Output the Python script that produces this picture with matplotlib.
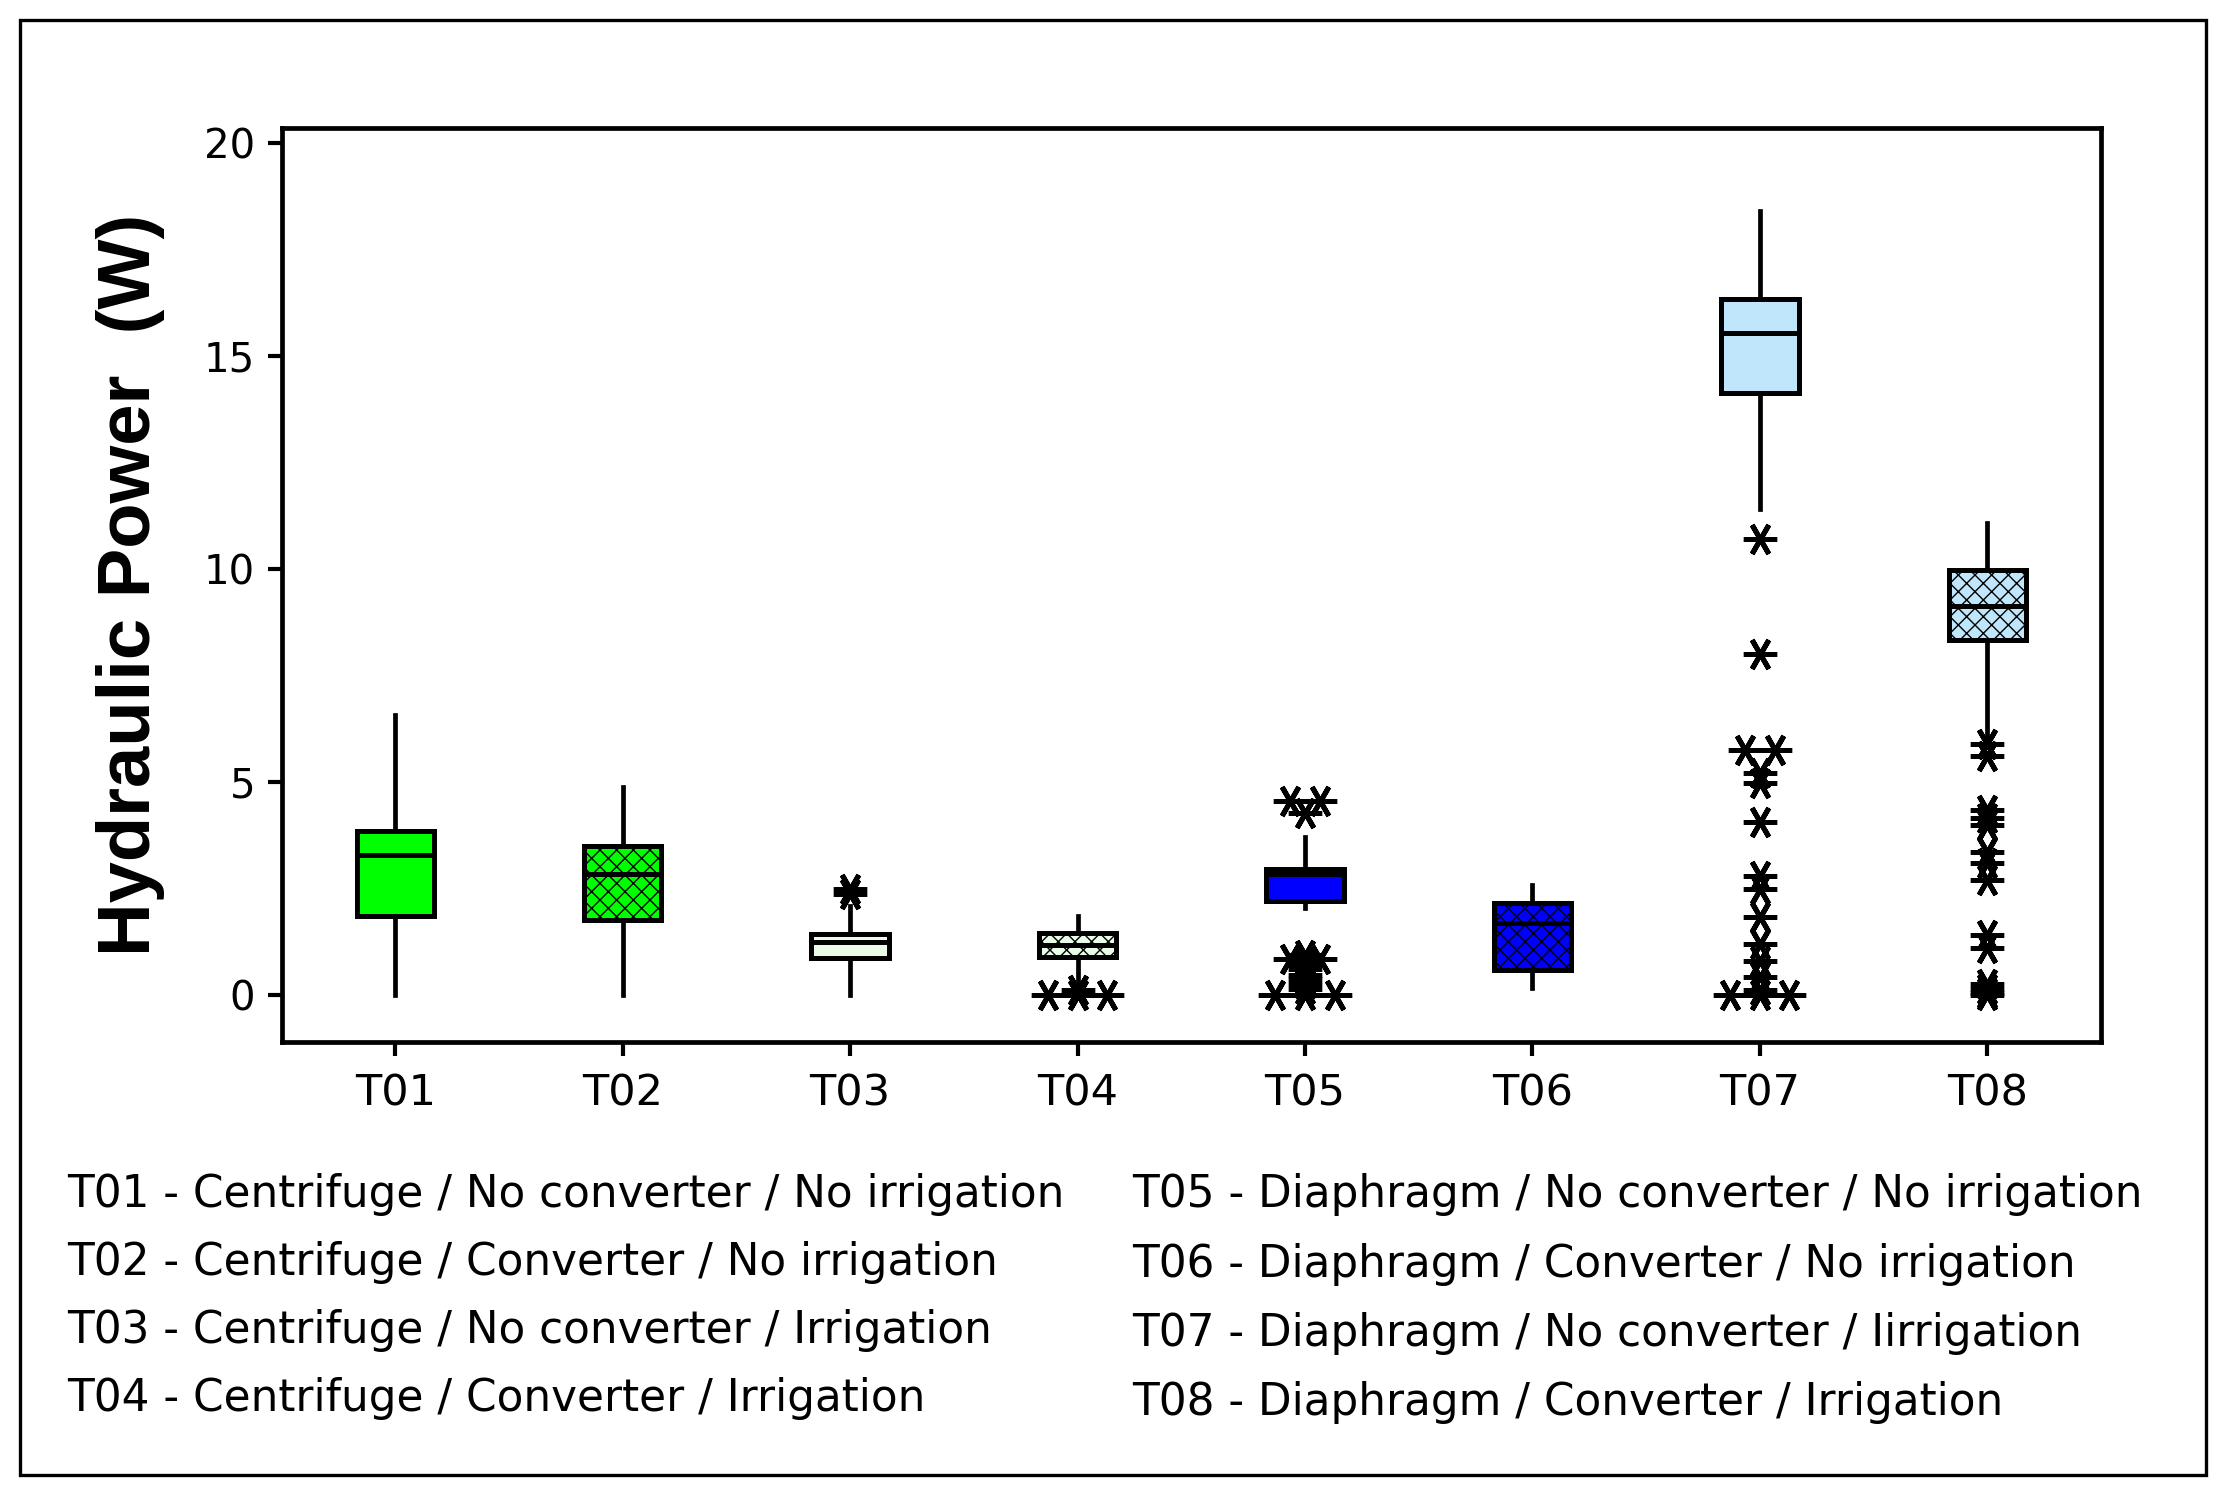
import matplotlib
matplotlib.use("Agg")
import matplotlib.pyplot as plt
from matplotlib.patches import Rectangle
import numpy as np

# Tratamientos
grupos = ["T01", "T02", "T03", "T04", "T05", "T06", "T07", "T08"]

# Estadisticos de cada caja (W)
q1 = [1.85, 1.76, 0.88, 0.90, 2.21, 0.59, 14.12, 8.34]
mediana = [3.29, 2.85, 1.24, 1.18, 2.83, 1.70, 15.54, 9.14]
q3 = [3.84, 3.50, 1.43, 1.45, 2.95, 2.16, 16.33, 9.97]
bigote_inf = [0.0, 0.0, 0.0, 0.28, 2.05, 0.16, 11.41, 6.05]
bigote_sup = [6.57, 4.89, 2.10, 1.85, 3.72, 2.58, 18.40, 11.08]

# Valores atipicos (*)
atipicos = [
    [],
    [],
    [2.50, 2.36],
    [0.12, 0.0, 0.0, 0.0],
    [4.55, 4.55, 4.28, 0.95, 0.85, 0.85, 0.72, 0.6, 0.48, 0.38, 0.26, 0.15, 0.0, 0.0, 0.0],
    [],
    [10.7, 8.0, 5.75, 5.75, 5.2, 4.98, 4.07, 2.8, 2.5, 1.82, 1.2, 0.8, 0.42, 0.12, 0.0, 0.0, 0.0],
    [5.9, 5.6, 4.35, 4.15, 4.0, 3.35, 3.1, 2.7, 1.4, 1.1, 0.25, 0.15, 0.05, 0.0],
]

colores = ["#00ff00", "#00ff00", "#e8fce8", "#e8fce8", "#0000ff", "#0000ff", "#c0e6fc", "#c0e6fc"]
convertidor = [False, True, False, True, False, True, False, True]

leyenda_izq = [
    "T01 - Centrifuge / No converter / No irrigation",
    "T02 - Centrifuge / Converter / No irrigation",
    "T03 - Centrifuge / No converter / Irrigation",
    "T04 - Centrifuge / Converter / Irrigation",
]
leyenda_der = [
    "T05 - Diaphragm / No converter / No irrigation",
    "T06 - Diaphragm / Converter / No irrigation",
    "T07 - Diaphragm / No converter / Iirrigation",
    "T08 - Diaphragm / Converter / Irrigation",
]

plt.rcParams["font.family"] = ["DejaVu Sans"]
plt.rcParams["hatch.linewidth"] = 1.0

fig = plt.figure(figsize=(22.29, 14.94), dpi=100)
ax = fig.add_axes([0.1263, 0.3026, 0.8163, 0.6118])

stats = []
for i, g in enumerate(grupos):
    stats.append({
        "label": g, "med": mediana[i], "q1": q1[i], "q3": q3[i],
        "whislo": bigote_inf[i], "whishi": bigote_sup[i], "fliers": [],
    })

pos = np.arange(1, len(grupos) + 1)
bp = ax.bxp(
    stats, positions=pos, widths=0.34, patch_artist=True, showfliers=False,
    showcaps=False,
    boxprops=dict(linewidth=3.6, edgecolor="black"),
    medianprops=dict(linewidth=3.6, color="black"),
    whiskerprops=dict(linewidth=3.4, color="black"),
)
for caja, c, h in zip(bp["boxes"], colores, convertidor):
    caja.set_facecolor(c)
    if h:
        caja.set_hatch("xx")

# atipicos: los valores repetidos se separan horizontalmente
dx = 0.13
for p, vals in zip(pos, atipicos):
    vals = np.array(vals)
    xs = np.full(len(vals), float(p))
    for v in np.unique(vals):
        idx = np.where(vals == v)[0]
        k = len(idx)
        if k > 1:
            xs[idx] = p + (np.arange(k) - (k - 1) / 2) * dx
    ax.plot(xs, vals, linestyle="none", marker=(6, 2, 90), markersize=24,
            markeredgewidth=3.6, color="black", zorder=5)

ax.set_xlim(0.5, 8.5)
ax.set_ylim(-1.1, 20.35)
ax.set_yticks([0, 5, 10, 15, 20])
ax.set_xticks(pos)
ax.set_xticklabels(grupos)
for s in ax.spines.values():
    s.set_linewidth(3.4)
ax.tick_params(axis="both", direction="out", length=10, width=3.0)
ax.tick_params(axis="y", pad=9, labelsize=29)
ax.tick_params(axis="x", pad=12, labelsize=31)

fig.text(0.0587, 0.6085, "Hydraulic Power  (W)", rotation=90, ha="center", va="center",
         fontsize=53.5, fontweight="bold", family=["Liberation Sans", "DejaVu Sans"])

# leyenda de tratamientos en texto
ys_izq = [0.2008, 0.155, 0.1094, 0.0637]
ys_der = [0.2003, 0.1535, 0.1075, 0.0615]
for t, y in zip(leyenda_izq, ys_izq):
    fig.text(0.030, y, t, ha="left", va="center", fontsize=31.5)
for t, y in zip(leyenda_der, ys_der):
    fig.text(0.5077, y, t, ha="left", va="center", fontsize=31.5)

# marco exterior
fig.patches.append(Rectangle((0.0089, 0.0124), 0.9809, 0.9743, transform=fig.transFigure,
                             fill=False, linewidth=2.4, edgecolor="black"))

fig.savefig("out.png", dpi=100)
